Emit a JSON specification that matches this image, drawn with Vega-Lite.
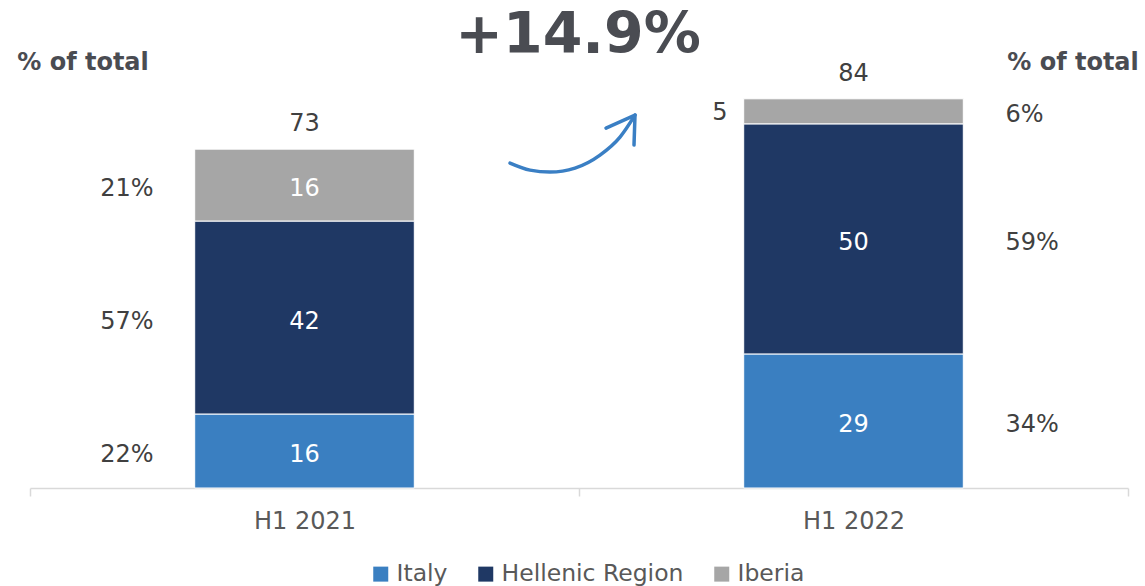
{
  "$schema": "https://vega.github.io/schema/vega-lite/v6.json",
  "width": 1098,
  "height": 488,
  "autosize": {"type": "none"},
  "padding": {"left": 30, "top": 0, "right": 17, "bottom": 98},
  "background": "white",
  "config": {
    "view": {"stroke": null},
    "font": "DejaVu Sans",
    "text": {"font": "DejaVu Sans"}
  },
  "datasets": {
    "bars": [
      {"period": "H1 2021", "region": "Italy", "rank": 1, "value": 15.95, "pct": "22%"},
      {"period": "H1 2021", "region": "Hellenic Region", "rank": 2, "value": 41.6, "pct": "57%"},
      {"period": "H1 2021", "region": "Iberia", "rank": 3, "value": 15.5, "pct": "21%"},
      {"period": "H1 2022", "region": "Italy", "rank": 1, "value": 28.9, "pct": "34%"},
      {"period": "H1 2022", "region": "Hellenic Region", "rank": 2, "value": 49.6, "pct": "59%"},
      {"period": "H1 2022", "region": "Iberia", "rank": 3, "value": 5.4, "pct": "6%"}
    ],
    "arrow": [
      {"ax": 480, "ay": 70.04, "o": 1},
      {"ax": 500, "ay": 68.53, "o": 2},
      {"ax": 520, "ay": 68.1, "o": 3},
      {"ax": 545, "ay": 68.97, "o": 4},
      {"ax": 570, "ay": 71.77, "o": 5},
      {"ax": 590, "ay": 75.65, "o": 6},
      {"ax": 605, "ay": 80.39, "o": 7}
    ],
    "head": [
      {"ax": 576, "ay": 77.59, "o": 1},
      {"ax": 605, "ay": 80.39, "o": 2},
      {"ax": 604, "ay": 73.92, "o": 3}
    ],
    "notes": [
      {"ax": 548, "ay": 97.4, "label": "+14.9%", "kind": "big"},
      {"ax": 53, "ay": 91.6, "label": "% of total", "kind": "head"},
      {"ax": 1043, "ay": 91.6, "label": "% of total", "kind": "head"}
    ]
  },
  "layer": [
    {
      "data": {"name": "bars"},
      "transform": [
        {"stack": "value", "groupby": ["period"], "sort": [{"field": "rank"}], "as": ["y0", "y1"]},
        {"calculate": "(datum.y0 + datum.y1) / 2", "as": "mid"}
      ],
      "encoding": {
        "x": {
          "field": "period", "type": "nominal",
          "scale": {"paddingInner": 0, "paddingOuter": 0},
          "axis": {
            "title": null, "labelAngle": 0, "domainColor": "#d9d9d9", "domainWidth": 1.5,
            "tickColor": "#d9d9d9", "tickWidth": 1.5, "tickSize": 8, "tickBand": "extent",
            "labelFontSize": 24, "labelColor": "#595959", "labelPadding": 13, "labelFont": "DejaVu Sans"
          }
        }
      },
      "layer": [
        {
          "mark": {"type": "bar", "width": {"band": 0.4}, "stroke": "white", "strokeWidth": 1},
          "encoding": {
            "y": {"field": "y0", "type": "quantitative", "scale": {"domain": [0, 105.2], "nice": false}, "axis": null},
            "y2": {"field": "y1"},
            "color": {
              "field": "region", "type": "nominal",
              "scale": {"domain": ["Italy", "Hellenic Region", "Iberia"], "range": ["#3a7fc1", "#1f3864", "#a6a6a6"]},
              "legend": {
                "title": null, "orient": "none", "direction": "horizontal", "legendX": 339, "legendY": 562,
                "symbolType": "square", "symbolSize": 225, "symbolStrokeWidth": 0, "labelFontSize": 23.5,
                "labelColor": "#595959", "labelFont": "DejaVu Sans", "columnPadding": 26, "labelOffset": 4,
                "labelLimit": 400
              }
            }
          }
        },
        {
          "transform": [{"filter": "!(datum.period == 'H1 2022' && datum.region == 'Iberia')"}],
          "mark": {"type": "text", "fontSize": 24, "color": "white", "dy": 4},
          "encoding": {
            "y": {"field": "mid", "type": "quantitative", "scale": {"domain": [0, 105.2], "nice": false}, "axis": null},
            "text": {"field": "value", "type": "quantitative", "format": ".0f"}
          }
        },
        {
          "transform": [{"filter": "datum.period == 'H1 2022' && datum.region == 'Iberia'"}],
          "mark": {"type": "text", "fontSize": 24, "color": "#404040", "align": "right", "dx": -126, "dy": 2},
          "encoding": {
            "y": {"field": "mid", "type": "quantitative", "scale": {"domain": [0, 105.2], "nice": false}, "axis": null},
            "text": {"field": "value", "type": "quantitative", "format": ".0f"}
          }
        },
        {
          "transform": [{"filter": "datum.period == 'H1 2021'"}],
          "mark": {"type": "text", "fontSize": 24, "color": "#404040", "align": "right", "dx": -151, "dy": 4},
          "encoding": {
            "y": {"field": "mid", "type": "quantitative", "scale": {"domain": [0, 105.2], "nice": false}, "axis": null},
            "text": {"field": "pct", "type": "nominal"}
          }
        },
        {
          "transform": [{"filter": "datum.period == 'H1 2022'"}],
          "mark": {"type": "text", "fontSize": 24, "color": "#404040", "align": "left", "dx": 152, "dy": 4},
          "encoding": {
            "y": {"field": "mid", "type": "quantitative", "scale": {"domain": [0, 105.2], "nice": false}, "axis": null},
            "text": {"field": "pct", "type": "nominal"}
          }
        },
        {
          "transform": [{"aggregate": [{"op": "sum", "field": "value", "as": "total"}], "groupby": ["period"]}],
          "mark": {"type": "text", "fontSize": 24, "color": "#404040", "dy": -25},
          "encoding": {
            "y": {"field": "total", "type": "quantitative", "scale": {"domain": [0, 105.2], "nice": false}, "axis": null},
            "text": {"field": "total", "type": "quantitative", "format": ".0f"}
          }
        }
      ]
    },
    {
      "encoding": {
        "x": {"field": "ax", "type": "quantitative", "scale": {"domain": [0, 1098], "nice": false, "zero": false}, "axis": null}
      },
      "layer": [
        {
          "data": {"name": "arrow"},
          "mark": {"type": "line", "interpolate": "monotone", "color": "#3a7fc4", "strokeWidth": 3.5, "strokeCap": "round"},
          "encoding": {
            "y": {"field": "ay", "type": "quantitative", "scale": {"domain": [0, 105.2], "nice": false}, "axis": null},
            "order": {"field": "o"}
          }
        },
        {
          "data": {"name": "head"},
          "mark": {"type": "line", "color": "#3a7fc4", "strokeWidth": 3.5, "strokeCap": "round", "strokeJoin": "round"},
          "encoding": {
            "y": {"field": "ay", "type": "quantitative", "scale": {"domain": [0, 105.2], "nice": false}, "axis": null},
            "order": {"field": "o"}
          }
        },
        {
          "data": {"name": "notes"},
          "transform": [{"filter": "datum.kind == 'big'"}],
          "mark": {"type": "text", "fontSize": 57, "fontWeight": "bold", "color": "#4a4c52"},
          "encoding": {
            "y": {"field": "ay", "type": "quantitative", "scale": {"domain": [0, 105.2], "nice": false}, "axis": null},
            "text": {"field": "label"}
          }
        },
        {
          "data": {"name": "notes"},
          "transform": [{"filter": "datum.kind == 'head'"}],
          "mark": {"type": "text", "fontSize": 24, "fontWeight": "bold", "color": "#4a4c52"},
          "encoding": {
            "y": {"field": "ay", "type": "quantitative", "scale": {"domain": [0, 105.2], "nice": false}, "axis": null},
            "text": {"field": "label"}
          }
        }
      ]
    }
  ],
  "resolve": {"scale": {"x": "independent"}}
}
